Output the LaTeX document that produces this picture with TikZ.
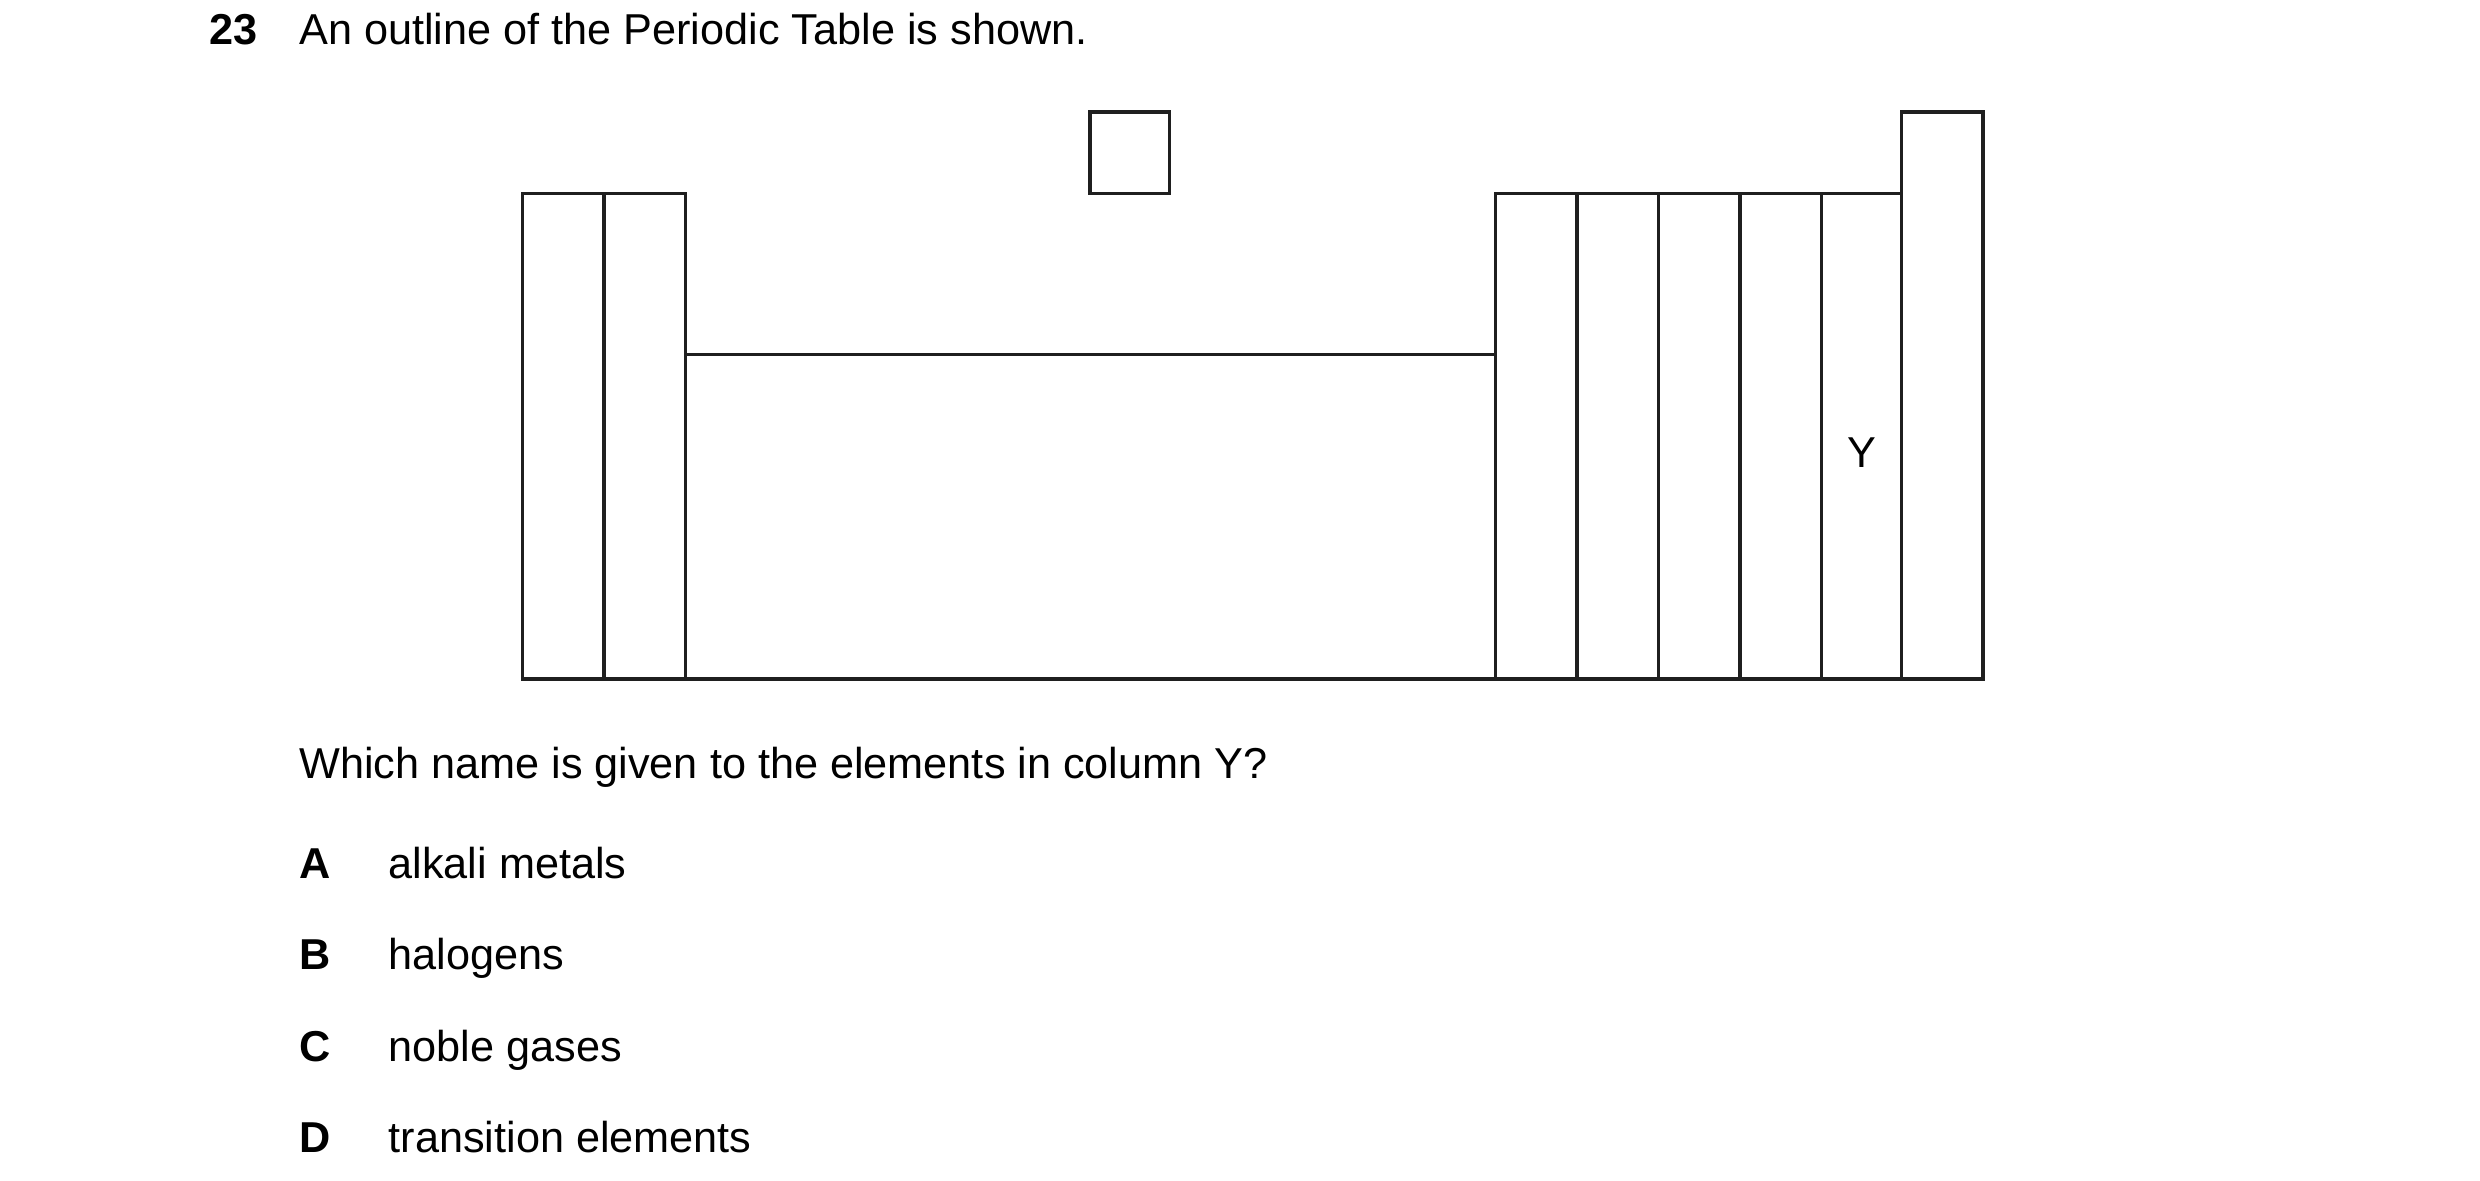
\documentclass[tikz,border=0pt]{standalone}
\usepackage{fontspec}
\setmainfont{Liberation Sans}
\begin{document}
\begin{tikzpicture}[x=0.85pt,y=-0.85pt,
  box/.style={draw=black!88,line width=1.8pt},
  txt/.style={anchor=base west,inner sep=0pt,font=\fontsize{23}{27}\selectfont},
  lbl/.style={txt,font=\fontsize{23}{27}\selectfont\bfseries}]
\useasboundingbox (0,0) rectangle (1552,738.5);
% outline
\draw[box] (327,121) rectangle (378,425);
\draw[box] (378,121) rectangle (429,425);
\draw[box] (429,222) rectangle (936,425);
\foreach \a/\b in {936/987,987/1038,1038/1089,1089/1140,1140/1190}
  \draw[box] (\a,121) rectangle (\b,425);
\draw[box] (1190,70) rectangle (1241,425);
\draw[box] (682,70) rectangle (732,121);
\node[inner sep=0pt,font=\fontsize{23}{27}\selectfont] (y) at (1165,283) {Y};
% text
\node[lbl] (num) at (131,28) {23};
\node[txt] (title) at (187,28) {An outline of the Periodic Table is shown.};
\node[txt] (q) at (187,487) {Which name is given to the elements in column Y?};
\node[lbl] (la) at (187,550) {A}; \node[txt] (ta) at (243,550) {alkali metals};
\node[lbl] (lb) at (187,607) {B}; \node[txt] (tb) at (243,607) {halogens};
\node[lbl] (lc) at (187,664) {C}; \node[txt] (tc) at (243,664) {noble gases};
\node[lbl] (ld) at (187,721) {D}; \node[txt] (td) at (243,721) {transition elements};
\end{tikzpicture}
\end{document}
